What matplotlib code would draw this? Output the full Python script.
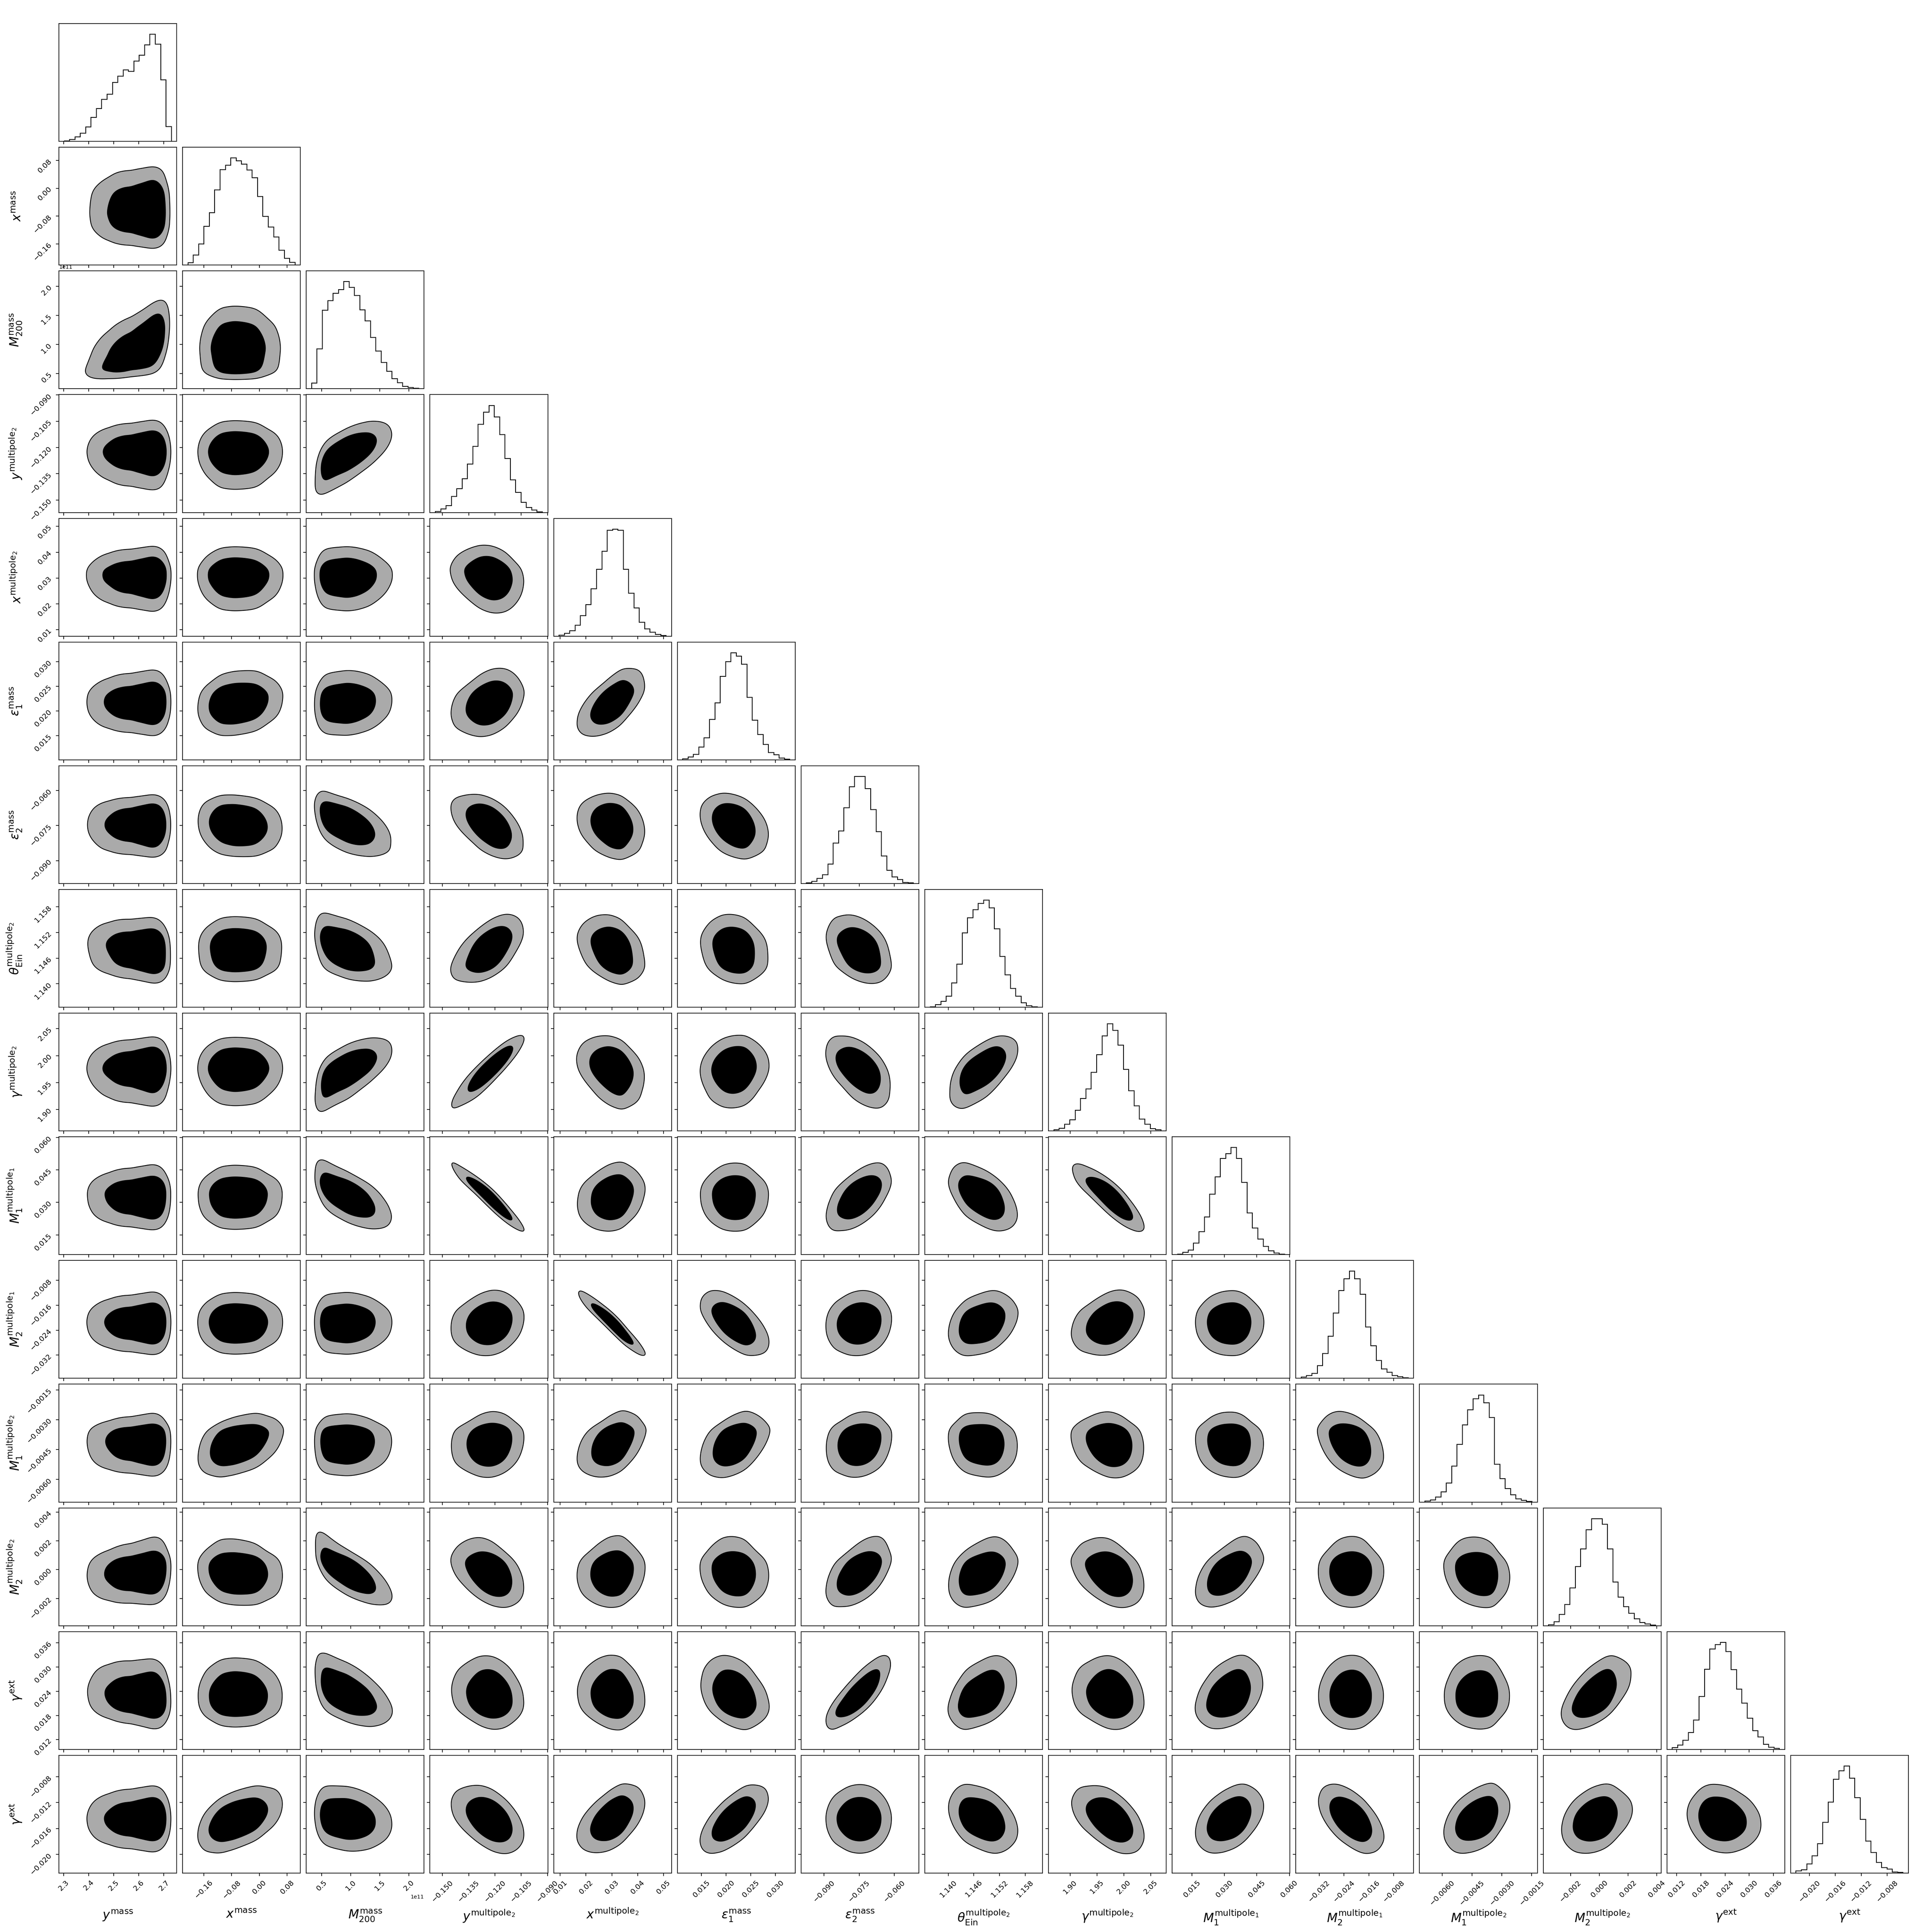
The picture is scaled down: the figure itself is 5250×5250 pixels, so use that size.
import math
import numpy as np
import matplotlib
matplotlib.use("Agg")
import matplotlib.pyplot as plt
from matplotlib.ticker import FixedLocator, ScalarFormatter, NullFormatter

# ---------------- data ----------------
labels = [
    r"$y^{\rm mass}$", r"$x^{\rm mass}$", r"$M_{200}^{\rm mass}$",
    r"$y^{\rm multipole_2}$", r"$x^{\rm multipole_2}$",
    r"$\varepsilon_1^{\rm mass}$", r"$\varepsilon_2^{\rm mass}$",
    r"$\theta_{\rm Ein}^{\rm multipole_2}$", r"$\gamma^{\rm multipole_2}$",
    r"$M_1^{\rm multipole_1}$", r"$M_2^{\rm multipole_1}$",
    r"$M_1^{\rm multipole_2}$", r"$M_2^{\rm multipole_2}$",
    r"$\gamma^{\rm ext}$", r"$\gamma^{\rm ext}$",
]

ranges = [
    (2.281, 2.751), (-0.221, 0.118), (0.237e11, 2.265e11),
    (-0.1571, -0.0898), (0.00750, 0.0531), (0.0101, 0.0340),
    (-0.0998, -0.0495), (1.1345, 1.1621), (1.860, 2.079),
    (0.0059, 0.0603), (-0.0395, -0.0016), (-0.00714, -0.00122),
    (-0.0039, 0.0043), (0.0096, 0.0388), (-0.0229, -0.0047),
]

ticks = [
    [2.3, 2.4, 2.5, 2.6, 2.7],
    [-0.16, -0.08, 0.00, 0.08],
    [0.5e11, 1.0e11, 1.5e11, 2.0e11],
    [-0.150, -0.135, -0.120, -0.105, -0.090],
    [0.01, 0.02, 0.03, 0.04, 0.05],
    [0.015, 0.020, 0.025, 0.030],
    [-0.090, -0.075, -0.060],
    [1.140, 1.146, 1.152, 1.158],
    [1.90, 1.95, 2.00, 2.05],
    [0.015, 0.030, 0.045, 0.060],
    [-0.032, -0.024, -0.016, -0.008],
    [-0.0060, -0.0045, -0.0030, -0.0015],
    [-0.002, 0.000, 0.002, 0.004],
    [0.012, 0.018, 0.024, 0.030, 0.036],
    [-0.020, -0.016, -0.012, -0.008],
]

# 1D histogram bin heights (20 bins each)
hist_y_mass = [3, 16, 37, 67, 118, 195, 267, 342, 384, 480, 531, 582, 570, 655, 703, 786, 872, 792, 501, 120]
hist_x_mass = [4, 18, 38, 70, 95, 136, 173, 181, 194, 189, 183, 172, 158, 124, 88, 69, 51, 27, 12, 5]
hist_M200 = [46, 323, 638, 716, 776, 806, 871, 823, 758, 641, 551, 416, 305, 215, 143, 81, 48, 20, 10, 5]
hist_y_mp2 = [2, 6, 12, 29, 43, 61, 87, 119, 159, 181, 193, 172, 140, 97, 59, 36, 18, 9, 4, 1]
hist_x_mp2 = [2, 5, 10, 20, 37, 57, 86, 121, 154, 192, 194, 192, 121, 78, 51, 25, 13, 7, 3, 1]
hist_e1 = [2, 5, 10, 23, 40, 73, 103, 151, 178, 194, 188, 173, 113, 72, 46, 28, 13, 9, 3, 1]
hist_e2 = [1, 4, 9, 16, 35, 73, 95, 137, 175, 194, 194, 172, 134, 94, 50, 24, 12, 7, 2, 1]
hist_theta = [1, 5, 11, 20, 44, 78, 135, 162, 177, 188, 194, 180, 142, 92, 59, 34, 20, 8, 3, 1]
hist_gamma_mp2 = [2, 5, 12, 20, 37, 58, 75, 105, 137, 170, 192, 180, 154, 110, 72, 45, 21, 12, 4, 2]
hist_M1_mp1 = [1, 4, 8, 21, 41, 68, 109, 140, 173, 182, 193, 173, 130, 75, 48, 28, 15, 7, 3, 1]
hist_M2_mp1 = [2, 5, 9, 23, 45, 76, 118, 159, 180, 194, 180, 152, 93, 59, 32, 17, 11, 5, 3, 1]
hist_M1_mp2 = [2, 4, 9, 18, 34, 65, 104, 139, 166, 186, 193, 179, 152, 68, 42, 24, 13, 6, 3, 1]
hist_M2_mp2 = [2, 7, 20, 38, 68, 106, 138, 172, 192, 192, 182, 138, 78, 51, 34, 22, 12, 6, 3, 1]
hist_gext1 = [3, 8, 17, 31, 54, 97, 147, 184, 192, 196, 179, 146, 110, 85, 57, 34, 23, 9, 4, 2]
hist_gext2 = [17, 27, 76, 142, 239, 415, 579, 765, 834, 873, 774, 615, 439, 261, 168, 86, 44, 34, 10, 5]

hists = [hist_y_mass, hist_x_mass, hist_M200, hist_y_mp2, hist_x_mp2, hist_e1,
         hist_e2, hist_theta, hist_gamma_mp2, hist_M1_mp1, hist_M2_mp1,
         hist_M1_mp2, hist_M2_mp2, hist_gext1, hist_gext2]

# pairwise correlations (row parameter vs each earlier column parameter)
rho_1 = [0.0]
rho_2 = [0.45, 0.0]
rho_3 = [0.0, 0.0, 0.6]
rho_4 = [0.0, 0.0, 0.0, -0.2]
rho_5 = [0.0, 0.15, 0.05, 0.3, 0.6]
rho_6 = [0.0, -0.1, -0.5, -0.5, -0.2, -0.3]
rho_7 = [-0.1, 0.0, -0.4, 0.55, -0.3, -0.15, -0.35]
rho_8 = [0.0, 0.0, 0.6, 0.9, -0.3, 0.1, -0.5, 0.6]
rho_9 = [0.0, 0.0, -0.6, -0.95, 0.2, 0.0, 0.55, -0.5, -0.85]
rho_10 = [0.0, 0.0, 0.0, 0.15, -0.95, -0.6, 0.1, 0.3, 0.3, 0.0]
rho_11 = [0.0, 0.35, 0.0, 0.1, 0.4, 0.4, 0.15, -0.1, -0.15, -0.05, -0.35]
rho_12 = [0.1, -0.1, -0.7, -0.4, 0.1, -0.1, 0.5, 0.35, -0.35, 0.5, 0.0, -0.15]
rho_13 = [-0.1, 0.0, -0.5, -0.15, -0.1, -0.3, 0.8, 0.4, -0.15, 0.35, 0.0, 0.0, 0.55]
rho_14 = [0.0, 0.45, -0.15, -0.45, 0.5, 0.65, 0.0, -0.35, -0.5, 0.4, -0.55, 0.4, 0.3, -0.15]
rhos = [None, rho_1, rho_2, rho_3, rho_4, rho_5, rho_6, rho_7, rho_8, rho_9,
        rho_10, rho_11, rho_12, rho_13, rho_14]

credible_masses = [0.60, 0.88]

# ---------------- rendering helpers ----------------
K = len(labels)
NG = 220

z_tab = np.linspace(-7.5, 7.5, 6001)
phi_tab = 0.5 * (1.0 + np.array([math.erf(v / math.sqrt(2.0)) for v in z_tab]))


def hist_edges(i):
    lo, hi = ranges[i]
    w = hi - lo
    return np.linspace(lo + w / 22.0, hi - w / 22.0, len(hists[i]) + 1)


def marginal(i):
    lo, hi = ranges[i]
    edges = hist_edges(i)
    h = np.asarray(hists[i], float)
    nb = len(h)
    bw = edges[1] - edges[0]
    grid = np.linspace(lo, hi, NG)
    idx = np.floor((grid - edges[0]) / bw).astype(int)
    f = np.where((idx >= 0) & (idx < nb), h[np.clip(idx, 0, nb - 1)], 0.0)
    dx = grid[1] - grid[0]
    s = 0.7 * bw / dx
    k = np.arange(-int(5 * s) - 1, int(5 * s) + 2)
    ker = np.exp(-0.5 * (k / s) ** 2)
    ker /= ker.sum()
    f = np.convolve(f, ker, mode="same")
    f = f / f.sum()
    F = np.cumsum(f) - 0.5 * f
    z = np.interp(np.clip(F, 1e-12, 1 - 1e-12), phi_tab, z_tab)
    return grid, f, z


margs = [marginal(i) for i in range(K)]

# ---------------- figure ----------------
factor = 2.0
lbdim = 0.5 * factor
trdim = 0.2 * factor
whspace = 0.05
plotdim = factor * K + factor * (K - 1.0) * whspace
dim = lbdim + plotdim + trdim
lb = lbdim / dim
tr = (lbdim + plotdim) / dim

fig, axes = plt.subplots(K, K, figsize=(5250 / 160, 5250 / 160), dpi=160)
fig.subplots_adjust(left=lb, bottom=lb, right=tr, top=tr, wspace=whspace, hspace=whspace)

TICKFS = 9
LABELFS = 15

for i in range(K):
    for j in range(K):
        ax = axes[i, j]
        if j > i:
            ax.set_frame_on(False)
            ax.set_xticks([])
            ax.set_yticks([])
            continue
        ax.set_xlim(ranges[j])
        ax.xaxis.set_major_locator(FixedLocator(ticks[j]))
        if i == j:
            h = np.asarray(hists[i], float)
            ax.stairs(h, hist_edges(i), baseline=0, color="k", linewidth=1.0)
            ax.set_ylim(0, 1.1 * h.max())
            ax.set_yticks([])
        else:
            gx, fx, zx = margs[j]
            gy, fy, zy = margs[i]
            r = rhos[i][j]
            ZX, ZY = np.meshgrid(zx, zy)
            FX, FY = np.meshgrid(fx, fy)
            c = np.exp(-(r * r * (ZX ** 2 + ZY ** 2) - 2 * r * ZX * ZY) / (2 * (1 - r * r))) / math.sqrt(1 - r * r)
            P = FX * FY * c
            ps = np.sort(P.ravel())[::-1]
            cum = np.cumsum(ps)
            cum /= cum[-1]
            t_in = ps[np.searchsorted(cum, credible_masses[0])]
            t_out = ps[np.searchsorted(cum, credible_masses[1])]
            ax.contourf(gx, gy, P, levels=[t_out, t_in, P.max() * 1.01],
                        colors=["#aaaaaa", "k"], antialiased=True)
            ax.contour(gx, gy, P, levels=[t_out, t_in], colors="k", linewidths=1.0)
            ax.set_ylim(ranges[i])
            ax.yaxis.set_major_locator(FixedLocator(ticks[i]))

        ax.tick_params(labelsize=TICKFS)
        # x tick labels
        if i == K - 1:
            fmt = ScalarFormatter(useOffset=False)
            ax.xaxis.set_major_formatter(fmt)
            for lab in ax.get_xticklabels():
                lab.set_rotation(45)
            ax.set_xlabel(labels[j], fontsize=LABELFS)
            ax.xaxis.set_label_coords(0.5, -0.3)
            ax.xaxis.get_offset_text().set_fontsize(6.5)
        else:
            ax.xaxis.set_major_formatter(NullFormatter())
        # y tick labels
        if i != j:
            if j == 0:
                fmt = ScalarFormatter(useOffset=False)
                ax.yaxis.set_major_formatter(fmt)
                for lab in ax.get_yticklabels():
                    lab.set_rotation(45)
                ax.set_ylabel(labels[i], fontsize=LABELFS)
                ax.yaxis.set_label_coords(-0.3, 0.5)
                ax.yaxis.get_offset_text().set_fontsize(6.5)
            else:
                ax.yaxis.set_major_formatter(NullFormatter())

fig.savefig("out.png", dpi=160)
